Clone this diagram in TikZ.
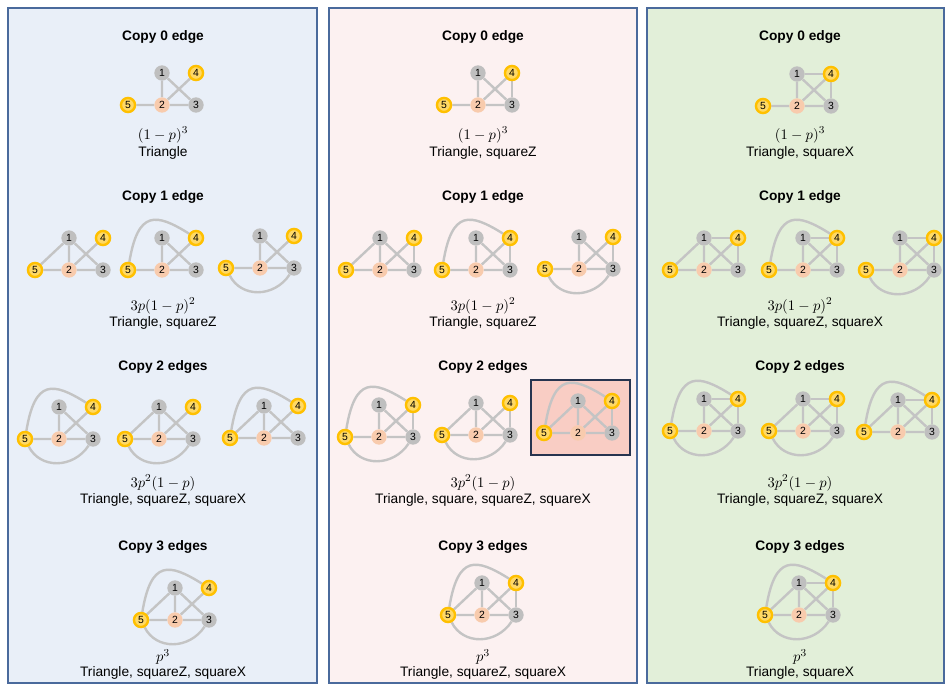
\documentclass[tikz,border=0pt]{standalone}
\usepackage{fontspec}
\setmainfont{Liberation Sans}
\pgfdeclarelayer{bg}
\pgfdeclarelayer{edges}
\pgfsetlayers{bg,edges,main}
\definecolor{pbl}{HTML}{E9EFF8}
\definecolor{ppk}{HTML}{FCF1F1}
\definecolor{pgr}{HTML}{E2EFD9}
\definecolor{pbd}{HTML}{4A6A9C}
\definecolor{ngray}{HTML}{BFBFBF}
\definecolor{norg}{HTML}{F8CBAD}
\definecolor{nyl}{HTML}{FFD966}
\definecolor{nyd}{HTML}{FFC000}
\definecolor{hlf}{HTML}{F9CDC4}
\definecolor{hld}{HTML}{27344F}
\definecolor{edc}{HTML}{C4C4C4}
\tikzset{
  panel/.style={draw=pbd,line width=1.1pt},
  gn/.style={circle,fill=ngray,minimum size=11.5pt,inner sep=0pt,font=\fontsize{7.8}{7.8}\selectfont},
  on/.style={gn,fill=norg},
  yn/.style={gn,fill=nyl,draw=nyd,line width=1.8pt,minimum size=10.6pt},
  ed/.style={draw=edc,line width=1.8pt},
  ttl/.style={font=\fontsize{10.3}{12}\selectfont\bfseries},
  fm/.style={font=\fontsize{11}{12}\selectfont},
  lb/.style={font=\fontsize{10.3}{12}\selectfont}
}
\newcommand{\gnodes}[3]{%
  \node[gn] (#1-1) at (#2,#3-32) {1};
  \node[on] (#1-2) at (#2,#3) {2};
  \node[gn] (#1-3) at (#2+34,#3) {3};
  \node[yn] (#1-4) at (#2+34,#3-32) {4};
  \node[yn] (#1-5) at (#2-34,#3) {5};
}
\newcommand{\gbase}[2]{%
  \draw[ed] (#1-1)--(#1-2) (#1-1)--(#1-3) (#1-2)--(#1-3) (#1-2)--(#1-4) (#1-2)--(#1-5);
  \ifnum#2>1 \draw[ed] (#1-4)--(#1-3);\fi
  \ifnum#2>2 \draw[ed] (#1-1)--(#1-4);\fi
}
\newcommand{\eA}[1]{\draw[ed] (#1-5)--(#1-1);}
\newcommand{\eB}[1]{\draw[ed] (#1-5) .. controls +(10,-60) and +(-40,-25) .. (#1-4);}
\newcommand{\eC}[1]{\draw[ed] (#1-5) .. controls +(15,30) and +(-20,30) .. (#1-3);}
\begin{document}
\begin{tikzpicture}[x=0.75pt,y=-0.75pt]
\useasboundingbox (0,0) rectangle (945,684);
\begin{pgfonlayer}{bg}
  \fill[white] (0,0) rectangle (945,684);
  \path[panel,fill=pbl] (8,8) rectangle (317,683);
  \path[panel,fill=ppk] (329,8) rectangle (637,683);
  \path[panel,fill=pgr] (647,8) rectangle (944,683);
  \path[draw=hld,fill=hlf,line width=1.3pt] (531,380) rectangle (630,455);
\end{pgfonlayer}
% ---------- texts ----------
\foreach \cx/\k in {163/a,483/b,800/c}{
  \node[ttl] (t0\k) at (\cx,37) {Copy 0 edge};
  \node[ttl] (t1\k) at (\cx,197) {Copy 1 edge};
  \node[ttl] (t2\k) at (\cx,367) {Copy 2 edges};
  \node[ttl] (t3\k) at (\cx,547) {Copy 3 edges};
  \node[fm] (f0\k) at (\cx,135) {$(1-p)^3$};
  \node[fm] (f1\k) at (\cx,306) {$3p(1-p)^2$};
  \node[fm] (f2\k) at (\cx,483) {$3p^2(1-p)$};
  \node[fm] (f3\k) at (\cx,657) {$p^3$};
}
\node[lb] (l0a) at (163,153) {Triangle};
\node[lb] (l1a) at (163,323) {Triangle, squareZ};
\node[lb] (l2a) at (163,500) {Triangle, squareZ, squareX};
\node[lb] (l3a) at (163,673) {Triangle, squareZ, squareX};
\node[lb] (l0b) at (483,153) {Triangle, squareZ};
\node[lb] (l1b) at (483,323) {Triangle, squareZ};
\node[lb] (l2b) at (483,500) {Triangle, square, squareZ, squareX};
\node[lb] (l3b) at (483,673) {Triangle, squareZ, squareX};
\node[lb] (l0c) at (800,153) {Triangle, squareX};
\node[lb] (l1c) at (800,323) {Triangle, squareZ, squareX};
\node[lb] (l2c) at (800,500) {Triangle, squareZ, squareX};
\node[lb] (l3c) at (800,673) {Triangle, squareX};
% ---------- graphs: column 1 ----------
\gnodes{a0}{162}{105}
\gnodes{a1}{69}{270}
\gnodes{a2}{162}{270}
\gnodes{a3}{260}{268}
\gnodes{a4}{59}{439}
\gnodes{a5}{159}{439}
\gnodes{a6}{264}{438}
\gnodes{a7}{175}{620}
% column 2
\gnodes{b0}{478}{105}
\gnodes{b1}{380}{270}
\gnodes{b2}{476}{270}
\gnodes{b3}{579}{269}
\gnodes{b4}{379}{437}
\gnodes{b5}{476}{435}
\gnodes{b6}{578}{433}
\gnodes{b7}{482}{615}
% column 3
\gnodes{c0}{797}{106}
\gnodes{c1}{704}{270}
\gnodes{c2}{803}{270}
\gnodes{c3}{900}{270}
\gnodes{c4}{704}{431}
\gnodes{c5}{803}{431}
\gnodes{c6}{898}{432}
\gnodes{c7}{799}{615}
\begin{pgfonlayer}{edges}
  \foreach \p/\c in {a/1,b/2,c/3}{
    \foreach \i in {0,...,7}{\gbase{\p\i}{\c}}
    \eA{\p1}
    \eB{\p2}
    \eC{\p3}
    \eB{\p4}\eC{\p4}
    \eA{\p5}\eC{\p5}
    \eA{\p6}\eB{\p6}
    \eA{\p7}\eB{\p7}\eC{\p7}
  }
\end{pgfonlayer}
\end{tikzpicture}
\end{document}
